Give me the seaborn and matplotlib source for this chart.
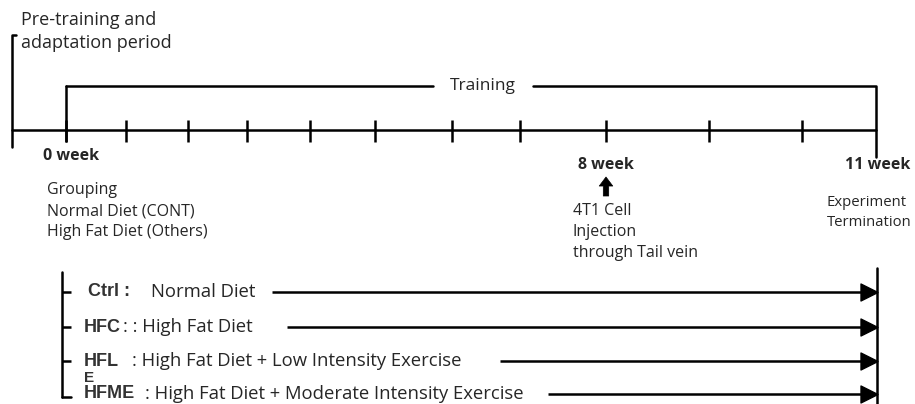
import matplotlib
matplotlib.use("Agg")
import matplotlib.pyplot as plt
import seaborn as sns
import pandas as pd

# ---- data (layout in pixel units of a 915x404 canvas) ----
tick_x = [66, 126, 188, 247, 310, 375, 452, 520, 606, 709, 802]
timeline_y = 130
week_labels = ["0 week", "8 week", "11 week"]
week_label_x = [71.5, 606, 845]
week_label_y = [156, 165, 165]
week_label_ha = ["center", "center", "left"]

group_codes = ["Ctrl :", "HFC", "HFL", "HFME"]
group_desc = ["Normal Diet", ": : High Fat Diet",
              ": High Fat Diet + Low Intensity Exercise",
              ": High Fat Diet + Moderate Intensity Exercise"]
group_y = [292, 327, 361, 394]
code_x = [88, 84, 84, 84]
desc_x = [151, 123, 132, 145]
arrow_start = [272, 287, 500, 548]
arrow_end = 876

grouping_lines = ["Grouping", "Normal Diet (CONT)", "High Fat Diet (Others)"]
injection_lines = ["4T1 Cell", "Injection", "through Tail vein"]
termination_lines = ["Experiment", "Termination"]

sns.set_theme(style="white")
plt.rcParams['font.family'] = ['Open Sans', 'DejaVu Sans']

fig, ax = plt.subplots(figsize=(9.15, 4.04), dpi=100)
fig.subplots_adjust(0, 0, 1, 1)
ax.set_xlim(0, 915)
ax.set_ylim(404, 0)
ax.axis("off")

lw = 1.8
k = "black"

# pre-training bracket
ax.plot([16, 12, 12], [35, 35, 147], color=k, lw=lw)
ax.text(21, 20, "Pre-training and", fontsize=13, va="center")
ax.text(21, 43, "adaptation period", fontsize=13, va="center")

# main timeline and ticks
ax.plot([12, arrow_end], [timeline_y, timeline_y], color=k, lw=lw)
ax.vlines(tick_x, timeline_y - 10, timeline_y + 12, color=k, lw=lw)

# training bracket
ax.plot([66, 66], [86, 141], color=k, lw=lw)
ax.plot([66, 433], [86, 86], color=k, lw=lw)
ax.plot([533, 876, 876], [86, 86, 157], color=k, lw=lw)
ax.text(483, 86, "Training", fontsize=12.5, ha="center", va="center")

# week labels
for lab, x, y, ha in zip(week_labels, week_label_x, week_label_y, week_label_ha):
    ax.text(x, y, lab, fontsize=11.5, fontweight="bold", ha=ha, va="center")

for i, t in enumerate(grouping_lines):
    ax.text(47, 190 + 21 * i, t, fontsize=11.5, va="center")

ax.annotate("", xy=(606, 177), xytext=(606, 196),
            arrowprops=dict(arrowstyle="simple,head_width=0.75,head_length=0.5,tail_width=0.3",
                            fc=k, ec=k, lw=0.5, mutation_scale=13,
                            shrinkA=0, shrinkB=0))
for i, t in enumerate(injection_lines):
    ax.text(573, 211 + 21 * i, t, fontsize=11.5, va="center")
for i, t in enumerate(termination_lines):
    ax.text(827, 202 + 20 * i, t, fontsize=10.7, va="center")

# group bracket
ax.plot([62, 62], [272, 397], color=k, lw=lw)
ax.hlines(group_y[:3], 62, 71, color=k, lw=lw)
ax.plot([62, 71], [397, 397], color=k, lw=lw)
ax.plot([877, 877], [268, 404], color=k, lw=lw)

for code, desc, y, cx, dx in zip(group_codes, group_desc, group_y, code_x, desc_x):
    ax.text(cx, y, code, fontsize=13, fontweight="bold",
            family=["Liberation Sans"], color="#333333", va="center")
    ax.text(dx, y, desc, fontsize=13.3, va="center")
ax.text(84, 378, "E", fontsize=11, fontweight="bold",
        family=["Liberation Sans"], color="#333333", va="center")

arrows = pd.DataFrame({"x": [arrow_end - 7] * 4, "y": group_y})
ax.hlines(group_y, arrow_start, arrow_end - 10, color=k, lw=lw)
sns.scatterplot(data=arrows, x="x", y="y", marker=">", s=150, color=k,
                edgecolor=k, ax=ax, legend=False, zorder=3)
ax.axis("off")

fig.savefig("out.png", dpi=100)
